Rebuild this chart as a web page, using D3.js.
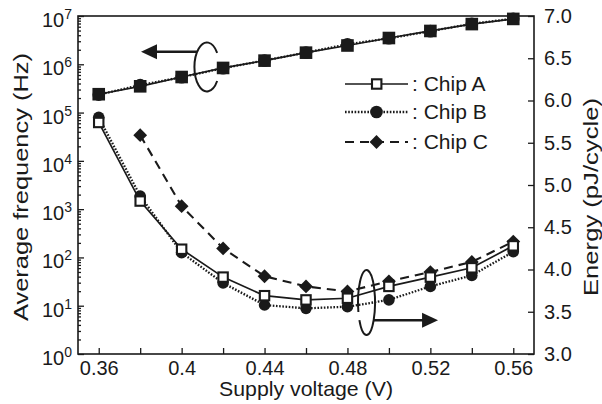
<!DOCTYPE html>
<html>
<head>
<meta charset="utf-8">
<script src="https://cdn.jsdelivr.net/npm/d3@7"></script>
<style>
  body { margin: 0; background: #fff; }
  svg { display: block; font-family: "Liberation Sans", Arial, sans-serif; }
</style>
</head>
<body>
<svg id="chart" width="602" height="404"></svg>
<script>
// supply voltage (V)
var voltage = [0.36, 0.38, 0.40, 0.42, 0.44, 0.46, 0.48, 0.50, 0.52, 0.54, 0.56];
var voltageC = [0.38, 0.40, 0.42, 0.44, 0.46, 0.48, 0.50, 0.52, 0.54, 0.56];

// average frequency (Hz), left axis
var freqA = [2.4e5, 3.5e5, 5.45e5, 8.4e5, 1.19e6, 1.74e6, 2.45e6, 3.5e6, 4.9e6, 6.8e6, 8.7e6];
var freqB = [2.35e5, 3.7e5, 5.4e5, 8.3e5, 1.2e6, 1.75e6, 2.6e6, 3.45e6, 4.85e6, 6.9e6, 8.8e6];

// energy (pJ/cycle), right axis
var energyA = [5.74, 4.81, 4.24, 3.91, 3.69, 3.64, 3.66, 3.80, 3.91, 4.02, 4.28];
var energyB = [5.80, 4.87, 4.20, 3.84, 3.58, 3.54, 3.56, 3.64, 3.80, 3.93, 4.21];
var energyC = [5.59, 4.75, 4.25, 3.92, 3.80, 3.74, 3.86, 3.97, 4.09, 4.33];

var xTicks = [0.36, 0.38, 0.40, 0.42, 0.44, 0.46, 0.48, 0.50, 0.52, 0.54, 0.56];
var xLabels = [0.36, 0.40, 0.44, 0.48, 0.52, 0.56];
var fTicks = [1, 10, 100, 1e3, 1e4, 1e5, 1e6, 1e7];
var eTicks = [3.0, 3.5, 4.0, 4.5, 5.0, 5.5, 6.0, 6.5, 7.0];
var legendNames = [": Chip A", ": Chip B", ": Chip C"];

var margin = {top: 16, right: 68, bottom: 50, left: 78}
  , width = 602 - margin.left - margin.right
  , height = 404 - margin.top - margin.bottom;

var svg = d3.select("#chart");
var g = svg.append("g").attr("transform", "translate(" + margin.left + "," + margin.top + ")");

var x = d3.scaleLinear().domain([0.35, 0.57]).range([0, width]);
var yF = d3.scaleLog().domain([1, 1e7]).range([height, 0]);
var yE = d3.scaleLinear().domain([3, 7]).range([height, 0]);

// bottom axis
var xAxis = g.append("g")
    .attr("transform", "translate(0," + height + ")")
    .call(d3.axisBottom(x).tickValues(xTicks).tickSizeInner(-6).tickSizeOuter(0).tickPadding(7)
      .tickFormat(function (d) { return xLabels.some(function (l) { return Math.abs(l - d) < 1e-6; }) ? d3.format("")(+d.toFixed(2)) : ""; }));

// left axis: minor then major ticks
var minors = [];
for (var e = 0; e < 7; e++) for (var m = 2; m < 10; m++) minors.push(m * Math.pow(10, e));
g.append("g").call(d3.axisLeft(yF).tickValues(minors).tickSizeInner(-3).tickSizeOuter(0).tickFormat(""));
g.append("g").call(d3.axisLeft(yF).tickValues(fTicks).tickSizeInner(-6).tickSizeOuter(0).tickFormat(""));

var fLab = g.append("g").selectAll("text").data(fTicks).enter().append("text")
    .attr("x", -6).attr("y", function (d) { return yF(d) + 11; })
    .attr("text-anchor", "end").style("font-size", "20px").attr("fill", "#1a1a1a");
fLab.append("tspan").text("10");
fLab.append("tspan").attr("dy", -8).style("font-size", "14px").text(function (d) { return Math.round(Math.log10(d)); });

// right axis
g.append("g")
    .attr("transform", "translate(" + width + ",0)")
    .call(d3.axisRight(yE).tickValues(eTicks).tickSizeInner(-6).tickSizeOuter(0).tickPadding(10)
      .tickFormat(d3.format(".1f")));

g.selectAll(".domain").remove();
g.selectAll(".tick line").attr("stroke", "#1a1a1a").attr("stroke-width", 1.3);
g.selectAll(".tick text").style("font-size", "20px").attr("fill", "#1a1a1a")
    .style("font-family", "'Liberation Sans', Arial, sans-serif");

// frame
g.append("rect").attr("width", width).attr("height", height)
    .attr("fill", "none").attr("stroke", "#1a1a1a").attr("stroke-width", 1.6);

// axis titles
svg.append("text").attr("x", margin.left + width / 2).attr("y", 396)
    .attr("text-anchor", "middle").style("font-size", "21px").attr("fill", "#1a1a1a")
    .attr("textLength", 174).attr("lengthAdjust", "spacingAndGlyphs")
    .text("Supply voltage (V)");
svg.append("text").attr("transform", "translate(28," + (margin.top + height / 2 + 2) + ") rotate(-90)")
    .attr("text-anchor", "middle").style("font-size", "21px").attr("fill", "#1a1a1a")
    .attr("textLength", 268).attr("lengthAdjust", "spacingAndGlyphs")
    .text("Average frequency (Hz)");
svg.append("text").attr("transform", "translate(598," + (margin.top + height / 2 + 12) + ") rotate(-90)")
    .attr("text-anchor", "middle").style("font-size", "20px").attr("fill", "#1a1a1a")
    .attr("textLength", 198).attr("lengthAdjust", "spacingAndGlyphs")
    .text("Energy (pJ/cycle)");

var ink = "#1a1a1a";
function lineF(vals) {
  return d3.line().x(function (d, i) { return x(voltage[i]); }).y(function (d) { return yF(d); })(vals);
}
function lineE(xs, vals) {
  return d3.line().x(function (d, i) { return x(xs[i]); }).y(function (d) { return yE(d); })(vals);
}
var styleA = {dash: null, w: 1.7}, styleB = {dash: "1.6,1.6", w: 2.3}, styleC = {dash: "9,6", w: 2.1};

// frequency curves
g.append("path").attr("d", lineF(freqA)).attr("fill", "none").attr("stroke", ink).attr("stroke-width", 1.7);
g.append("path").attr("d", lineF(freqB)).attr("fill", "none").attr("stroke", ink).attr("stroke-width", 2.3).attr("stroke-dasharray", styleB.dash);
g.append("g").selectAll("circle").data(freqB).enter().append("circle")
    .attr("cx", function (d, i) { return x(voltage[i]); }).attr("cy", function (d) { return yF(d); })
    .attr("r", 6.3).attr("fill", ink);
g.append("g").selectAll("rect").data(freqA).enter().append("rect")
    .attr("x", function (d, i) { return x(voltage[i]) - 6.3; }).attr("y", function (d) { return yF(d) - 6.3; })
    .attr("width", 12.6).attr("height", 12.6).attr("fill", ink);

// energy curves
g.append("path").attr("d", lineE(voltageC, energyC)).attr("fill", "none").attr("stroke", ink).attr("stroke-width", styleC.w).attr("stroke-dasharray", styleC.dash);
g.append("path").attr("d", lineE(voltage, energyB)).attr("fill", "none").attr("stroke", ink).attr("stroke-width", styleB.w).attr("stroke-dasharray", styleB.dash);
g.append("path").attr("d", lineE(voltage, energyA)).attr("fill", "none").attr("stroke", ink).attr("stroke-width", styleA.w);

var diamond = d3.symbol().type(d3.symbolSquare).size(95);
g.append("g").selectAll("path").data(energyC).enter().append("path")
    .attr("d", diamond)
    .attr("transform", function (d, i) { return "translate(" + x(voltageC[i]) + "," + yE(d) + ") rotate(45)"; })
    .attr("fill", ink);
g.append("g").selectAll("circle").data(energyB).enter().append("circle")
    .attr("cx", function (d, i) { return x(voltage[i]); }).attr("cy", function (d) { return yE(d); })
    .attr("r", 5.8).attr("fill", ink);
g.append("g").selectAll("rect").data(energyA).enter().append("rect")
    .attr("x", function (d, i) { return x(voltage[i]) - 4.7; }).attr("y", function (d) { return yE(d) - 4.7; })
    .attr("width", 9.4).attr("height", 9.4).attr("fill", "#fff").attr("stroke", ink).attr("stroke-width", 2.1);

// legend
var leg = svg.append("g").attr("transform", "translate(345,84)");
var rows = leg.selectAll("g").data(legendNames).enter().append("g")
    .attr("transform", function (d, i) { return "translate(0," + [0, 28, 58][i] + ")"; });
rows.append("line").attr("x1", 0).attr("x2", 63).attr("y1", 0).attr("y2", 0)
    .attr("stroke", ink)
    .attr("stroke-width", function (d, i) { return [styleA, styleB, styleC][i].w; })
    .attr("stroke-dasharray", function (d, i) { return [styleA, styleB, styleC][i].dash; });
rows.each(function (d, i) {
  var r = d3.select(this);
  if (i === 0) r.append("rect").attr("x", 27).attr("y", -4.7).attr("width", 9.4).attr("height", 9.4)
      .attr("fill", "#fff").attr("stroke", ink).attr("stroke-width", 2.1);
  if (i === 1) r.append("circle").attr("cx", 31.5).attr("r", 6.3).attr("fill", ink);
  if (i === 2) r.append("path").attr("d", diamond).attr("transform", "translate(31.5,0) rotate(45)").attr("fill", ink);
});
rows.append("text").attr("x", 67).attr("y", 7).style("font-size", "21px").attr("fill", ink).text(function (d) { return d; });

// annotations: ellipse + arrow pointing to the axis each curve uses
function openEllipse(cx, cy, rx, ry, a0, a1) {
  var r = Math.PI / 180;
  var p0 = [cx + rx * Math.cos(a0 * r), cy + ry * Math.sin(a0 * r)];
  var p1 = [cx + rx * Math.cos(a1 * r), cy + ry * Math.sin(a1 * r)];
  var sweep = a1 > a0 ? 1 : 0;
  return "M" + p0 + " A" + rx + "," + ry + " 0 1," + sweep + " " + p1;
}
// left (frequency)
var lc = [x(0.4122), yF(8.8e5)];
g.append("path").attr("d", openEllipse(lc[0], lc[1], 12.5, 24.5, -35, -325))
    .attr("fill", "none").attr("stroke", ink).attr("stroke-width", 2);
var la = yF(1.82e6), lt = x(0.3804);
g.append("line").attr("x1", lc[0] - 10).attr("x2", lt + 12).attr("y1", la).attr("y2", la).attr("stroke", ink).attr("stroke-width", 2.4);
g.append("path").attr("d", "M" + lt + "," + la + " L" + (lt + 16) + "," + (la - 7.5) + " L" + (lt + 16) + "," + (la + 7.5) + " Z").attr("fill", ink);
// right (energy)
var rc = [x(0.4892), yE(3.61)];
g.append("path").attr("d", openEllipse(rc[0], rc[1], 8.5, 32.5, 163, 507))
    .attr("fill", "none").attr("stroke", ink).attr("stroke-width", 2);
var ra = yE(3.40), rt = x(0.5237);
g.append("line").attr("x1", rc[0] + 7).attr("x2", rt - 12).attr("y1", ra).attr("y2", ra).attr("stroke", ink).attr("stroke-width", 2.4);
g.append("path").attr("d", "M" + rt + "," + ra + " L" + (rt - 16) + "," + (ra - 7.5) + " L" + (rt - 16) + "," + (ra + 7.5) + " Z").attr("fill", ink);
</script>
</body>
</html>
